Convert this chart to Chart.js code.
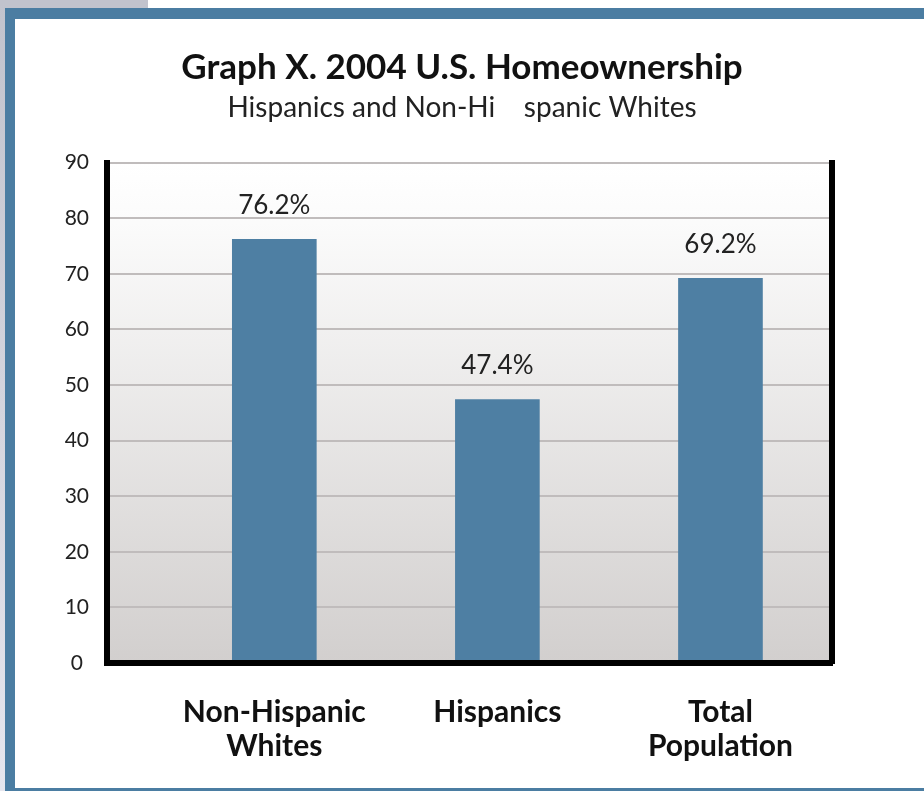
<!DOCTYPE html>
<html>
<head>
<meta charset="utf-8">
<title>2004 U.S. Homeownership</title>
<script src="https://cdn.jsdelivr.net/npm/chart.js@4"></script>
<style>
  html, body { margin: 0; padding: 0; background: #fff; }
  body { width: 924px; height: 791px; position: relative; overflow: hidden; }
  .tab { position: absolute; left: 0; top: 0; width: 148px; height: 8px; background: #c1c3cd; }
  .edge { position: absolute; left: 0; top: 0; width: 5px; height: 791px; background: linear-gradient(#c1c3cd, #e6e6ee); }
  .frame {
    position: absolute; left: 5px; top: 8px; width: 919px; height: 783px; box-sizing: border-box;
    border-top: 11px solid #4b7da2; border-left: 10px solid #4b7da2; border-bottom: 3px solid #4b7da2;
  }
  #chart { position: absolute; left: 0; top: 0; }
</style>
</head>
<body>
<div class="tab"></div>
<div class="edge"></div>
<div class="frame"></div>
<canvas id="chart" width="924" height="791"></canvas>
<script>
const categories = [['Non-Hispanic', 'Whites'], 'Hispanics', ['Total', 'Population']];
const ownershipRates = [76.2, 47.4, 69.2];
const yTicks = [0, 10, 20, 30, 40, 50, 60, 70, 80, 90];

const barColor = '#4e7fa3';

Chart.defaults.font.family = 'Lato, "Open Sans", sans-serif';
Chart.defaults.color = '#222';

// shaded panel behind the bars, white at the top fading to grey
const plotBackground = {
    id: 'plotBackground',
    beforeDraw(chart) {
        const { ctx, chartArea: a } = chart;
        const g = ctx.createLinearGradient(0, a.top, 0, a.bottom);
        g.addColorStop(0, '#ffffff');
        g.addColorStop(0.12, '#fbfbfb');
        g.addColorStop(1, '#d2cfce');
        ctx.save();
        ctx.fillStyle = g;
        ctx.fillRect(a.left, a.top, a.right - a.left, a.bottom - a.top);
        ctx.restore();
    }
};

// percentage written above each bar
const barValueLabels = {
    id: 'barValueLabels',
    afterDatasetsDraw(chart) {
        const { ctx } = chart;
        const meta = chart.getDatasetMeta(0);
        ctx.save();
        ctx.font = '26px Lato, "Open Sans", sans-serif';
        ctx.fillStyle = '#222';
        ctx.textAlign = 'center';
        ctx.textBaseline = 'alphabetic';
        meta.data.forEach((bar, i) => {
            ctx.fillText(ownershipRates[i].toFixed(1) + '%', bar.x, bar.y - 25);
        });
        ctx.restore();
    }
};

new Chart(document.getElementById('chart'), {
    type: 'bar',
    data: {
        datasets: [{
            data: ownershipRates.map((v, i) => ({ x: i + 1, y: v })),
            backgroundColor: barColor,
            borderWidth: 0,
            barThickness: 84
        }]
    },
    options: {
        responsive: false,
        animation: false,
        devicePixelRatio: 1,
        layout: { padding: 0 },
        plugins: {
            legend: { display: false },
            tooltip: { enabled: false },
            title: {
                display: true,
                text: 'Graph X. 2004 U.S. Homeownership',
                color: '#111',
                font: { size: 35, weight: 'bold' },
                padding: { top: 47, bottom: 0 }
            },
            subtitle: {
                display: true,
                text: 'Hispanics and Non-Hi    spanic Whites',
                color: '#222',
                font: { size: 28 },
                padding: { top: 2, bottom: 38 }
            }
        },
        scales: {
            x: {
                type: 'linear',
                offset: false,
                min: 0.25,
                max: 3.5,
                afterBuildTicks: scale => { scale.ticks = categories.map((c, i) => ({ value: i + 1 })); },
                afterFit: scale => { scale.height = 128; },
                grid: { display: false, drawTicks: false, offset: false },
                border: { display: true, color: '#000', width: 6, z: 1 },
                ticks: {
                    autoSkip: false,
                    maxRotation: 0,
                    padding: 32,
                    color: '#111',
                    font: { size: 30, weight: 'bold', lineHeight: 1.13 },
                    callback: value => categories[value - 1]
                }
            },
            y: {
                min: 0,
                max: 90,
                afterBuildTicks: scale => { scale.ticks = yTicks.map(v => ({ value: v })); },
                afterFit: scale => { scale.width = 107; },
                grid: { color: '#c0bcbc', lineWidth: 2, drawTicks: false },
                border: { display: true, color: '#000', width: 6, z: 1 },
                ticks: {
                    crossAlign: 'center',
                    padding: 18,
                    color: '#222',
                    font: { size: 21 }
                }
            },
            y2: {
                position: 'right',
                min: 0,
                max: 90,
                afterFit: scale => { scale.width = 92; },
                grid: { display: false, drawTicks: false },
                border: { display: true, color: '#000', width: 6, z: 1 },
                ticks: { display: false }
            }
        }
    },
    plugins: [plotBackground, barValueLabels]
});
</script>
</body>
</html>
